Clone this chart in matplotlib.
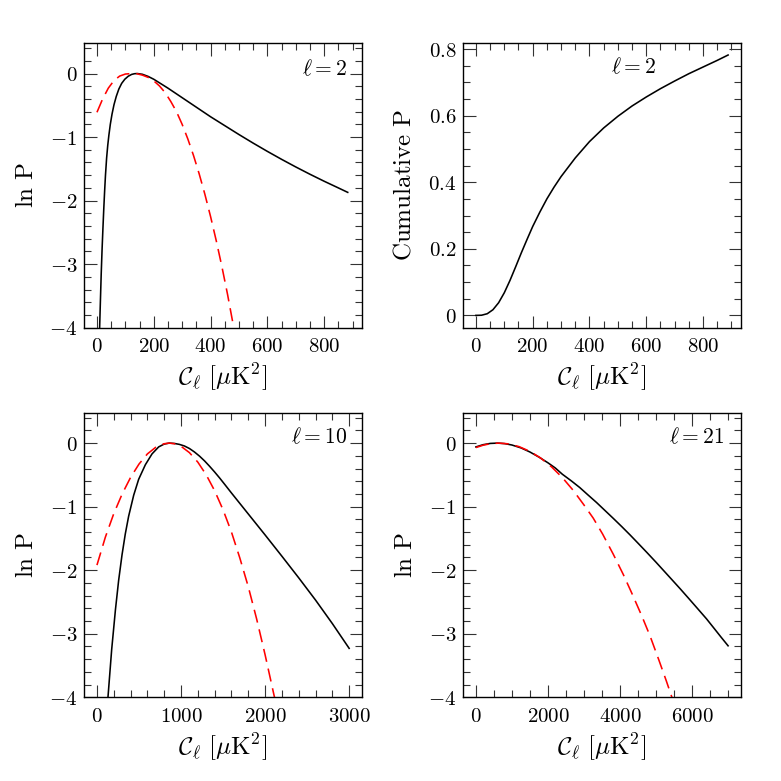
import matplotlib
matplotlib.use('Agg')
import matplotlib.pyplot as plt
from matplotlib.ticker import MultipleLocator, FuncFormatter

plt.rcParams['mathtext.fontset'] = 'cm'
plt.rcParams['font.family'] = ['DejaVu Serif']
plt.rcParams['lines.scale_dashes'] = False

# ---------------- data ----------------
# l = 2 : exact ln P (black)
l2_exact_C = [9.4, 12, 15, 18, 21, 24, 27, 30, 34, 38, 42, 47, 53, 60, 68, 77, 87, 98,
              110, 122, 132, 142, 160, 180, 200, 225, 250, 275, 300, 325, 350, 375,
              400, 450, 500, 550, 600, 650, 700, 750, 800, 850, 883]
l2_exact_lnP = [-4.0, -3.60, -3.15, -2.77, -2.44, -2.13, -1.85, -1.60, -1.33, -1.13,
                -0.97, -0.80, -0.64, -0.49, -0.36, -0.245, -0.155, -0.09, -0.043,
                -0.014, -0.003, 0.0, -0.012, -0.045, -0.09, -0.16, -0.23, -0.305,
                -0.38, -0.455, -0.53, -0.605, -0.68, -0.82, -0.96, -1.095, -1.225,
                -1.35, -1.47, -1.585, -1.695, -1.80, -1.87]
# l = 2 : Gaussian approximation (red dashed)
l2_gauss_C = [0, 20, 40, 60, 80, 100, 120, 130, 140, 160, 180, 200, 220, 240, 260,
              280, 300, 320, 340, 360, 380, 400, 420, 440, 460, 480, 482]
l2_gauss_lnP = [-0.61, -0.40, -0.23, -0.11, -0.04, -0.008, -0.001, 0.0, -0.003,
                -0.025, -0.06, -0.115, -0.195, -0.30, -0.44, -0.60, -0.80, -1.03,
                -1.29, -1.58, -1.90, -2.25, -2.63, -3.04, -3.48, -3.96, -4.0]
# l = 2 : cumulative probability
cum_C = [0, 20, 40, 60, 80, 100, 120, 140, 160, 180, 200, 225, 250, 275, 300, 350,
         400, 450, 500, 550, 600, 650, 700, 750, 800, 850, 888]
cum_P = [0.0, 0.0005, 0.005, 0.017, 0.038, 0.068, 0.105, 0.146, 0.188, 0.228, 0.267,
         0.31, 0.35, 0.385, 0.417, 0.473, 0.522, 0.563, 0.598, 0.629, 0.656, 0.681,
         0.704, 0.726, 0.746, 0.766, 0.782]
# l = 10
l10_exact_C = [131, 175, 220, 258, 298, 337, 377, 437, 496, 576, 655, 734, 800, 860,
               920, 980, 1040, 1100, 1160, 1220, 1280, 1340, 1400, 1460, 1520, 1600,
               1800, 2000, 2200, 2400, 2600, 2800, 3000]
l10_exact_lnP = [-4.0, -3.25, -2.62, -2.16, -1.76, -1.43, -1.15, -0.82, -0.57, -0.34,
                 -0.17, -0.06, -0.015, 0.0, -0.005, -0.02, -0.045, -0.085, -0.14,
                 -0.205, -0.28, -0.365, -0.455, -0.55, -0.65, -0.785, -1.115, -1.445,
                 -1.78, -2.12, -2.47, -2.84, -3.23]
l10_gauss_C = [0, 100, 200, 300, 400, 500, 600, 700, 800, 860, 920, 1000, 1100, 1200,
               1300, 1400, 1500, 1600, 1700, 1800, 1900, 2000, 2100, 2112]
l10_gauss_lnP = [-1.92, -1.48, -1.11, -0.80, -0.54, -0.33, -0.17, -0.065, -0.01, 0.0,
                 -0.01, -0.05, -0.15, -0.30, -0.50, -0.75, -1.05, -1.40, -1.81, -2.26,
                 -2.77, -3.33, -3.93, -4.0]
# l = 21
l21_exact_C = [0, 200, 400, 600, 800, 1000, 1250, 1500, 1750, 2000, 2200, 2400, 2650,
               2884, 3100, 3349, 3600, 3814, 4050, 4279, 4500, 4744, 5000, 5209, 5450,
               5674, 5900, 6139, 6400, 6604, 6800, 7000]
l21_exact_lnP = [-0.06, -0.025, -0.005, 0.0, -0.008, -0.03, -0.075, -0.14, -0.22,
                 -0.31, -0.39, -0.49, -0.595, -0.70, -0.81, -0.935, -1.07, -1.185,
                 -1.315, -1.445, -1.575, -1.72, -1.875, -2.005, -2.155, -2.295, -2.44,
                 -2.595, -2.765, -2.91, -3.05, -3.19]
l21_gauss_C = [0, 200, 400, 634, 900, 1200, 1500, 1800, 2100, 2400, 2700, 3000, 3256,
               3516, 3814, 4093, 4326, 4605, 4837, 5070, 5284, 5440]
l21_gauss_lnP = [-0.07, -0.033, -0.01, 0.0, -0.012, -0.056, -0.13, -0.236, -0.374,
                 -0.543, -0.743, -0.974, -1.18, -1.43, -1.75, -2.07, -2.36, -2.72,
                 -3.04, -3.40, -3.74, -4.0]

panel_labels = [r'$\ell=2$', r'$\ell=2$', r'$\ell=10$', r'$\ell=21$']
xlabel = r'$\mathcal{C}_\ell\ [\mu\mathrm{K}^2]$'

# ---------------- figure ----------------
fig = plt.figure(figsize=(7.81, 7.81), dpi=100)
W = 0.3552
H = 0.3645
ax1 = fig.add_axes([0.108, 0.5804, W, H])
ax2 = fig.add_axes([0.5932, 0.5804, W, H])
ax3 = fig.add_axes([0.108, 0.1072, W, H])
ax4 = fig.add_axes([0.5932, 0.1072, W, H])


def fmt(v, pos):
    s = '%g' % round(v, 6)
    if s == '-0':
        s = '0'
    return r'$\mathrm{%s}$' % s


lw = 1.15
red_kw = dict(color='#ff0000', lw=lw, dashes=(9.5, 5))

ax1.plot(l2_exact_C, l2_exact_lnP, color='black', lw=lw)
ax1.plot(l2_gauss_C, l2_gauss_lnP, **red_kw)
ax2.plot(cum_C, cum_P, color='black', lw=lw)
ax3.plot(l10_exact_C, l10_exact_lnP, color='black', lw=lw)
ax3.plot(l10_gauss_C, l10_gauss_lnP, **red_kw)
ax4.plot(l21_exact_C, l21_exact_lnP, color='black', lw=lw)
ax4.plot(l21_gauss_C, l21_gauss_lnP, **red_kw)

ax1.set_xlim(-44.4, 932.4)
ax2.set_xlim(-44.4, 932.4)
ax3.set_xlim(-150, 3150)
ax4.set_xlim(-350, 7350)
for ax in (ax1, ax3, ax4):
    ax.set_ylim(-4, 0.48)
    ax.yaxis.set_major_locator(MultipleLocator(1))
    ax.yaxis.set_minor_locator(MultipleLocator(0.2))
ax2.set_ylim(-0.037, 0.818)
ax2.yaxis.set_major_locator(MultipleLocator(0.2))
ax2.yaxis.set_minor_locator(MultipleLocator(0.05))

for ax in (ax1, ax2):
    ax.xaxis.set_major_locator(MultipleLocator(200))
    ax.xaxis.set_minor_locator(MultipleLocator(50))
ax3.xaxis.set_major_locator(MultipleLocator(1000))
ax3.xaxis.set_minor_locator(MultipleLocator(200))
ax4.xaxis.set_major_locator(MultipleLocator(2000))
ax4.xaxis.set_minor_locator(MultipleLocator(500))

ylabels = [r'$\mathrm{ln\ P}$', r'$\mathrm{Cumulative\ P}$',
           r'$\mathrm{ln\ P}$', r'$\mathrm{ln\ P}$']
label_pos = [(0.946, 0.8885, 'right'), (0.693, 0.8945, 'right'),
             (0.946, 0.891, 'right'), (0.94, 0.891, 'right')]

for i, ax in enumerate((ax1, ax2, ax3, ax4)):
    for sp in ax.spines.values():
        sp.set_linewidth(1.0)
    ax.tick_params(which='both', direction='in', top=True, right=True,
                   width=0.8, color='#333333')
    ax.tick_params(which='major', length=9, labelsize=15)
    ax.tick_params(axis='x', which='major', pad=7)
    ax.tick_params(axis='y', which='major', pad=5)
    ax.tick_params(which='minor', length=4.7)
    ax.xaxis.set_major_formatter(FuncFormatter(fmt))
    ax.yaxis.set_major_formatter(FuncFormatter(fmt))
    ax.set_xlabel(xlabel, fontsize=18, va='center')
    ax.xaxis.set_label_coords(0.5, -0.175)
    ax.set_ylabel(ylabels[i], fontsize=18, va='center')
    ax.yaxis.set_label_coords(-0.21 if i != 1 else -0.214, 0.5)
    x, y, ha = label_pos[i]
    ax.text(x, y, panel_labels[i], transform=ax.transAxes, ha=ha,
            va='baseline', fontsize=15.5)

fig.savefig('out.png', dpi=100)
